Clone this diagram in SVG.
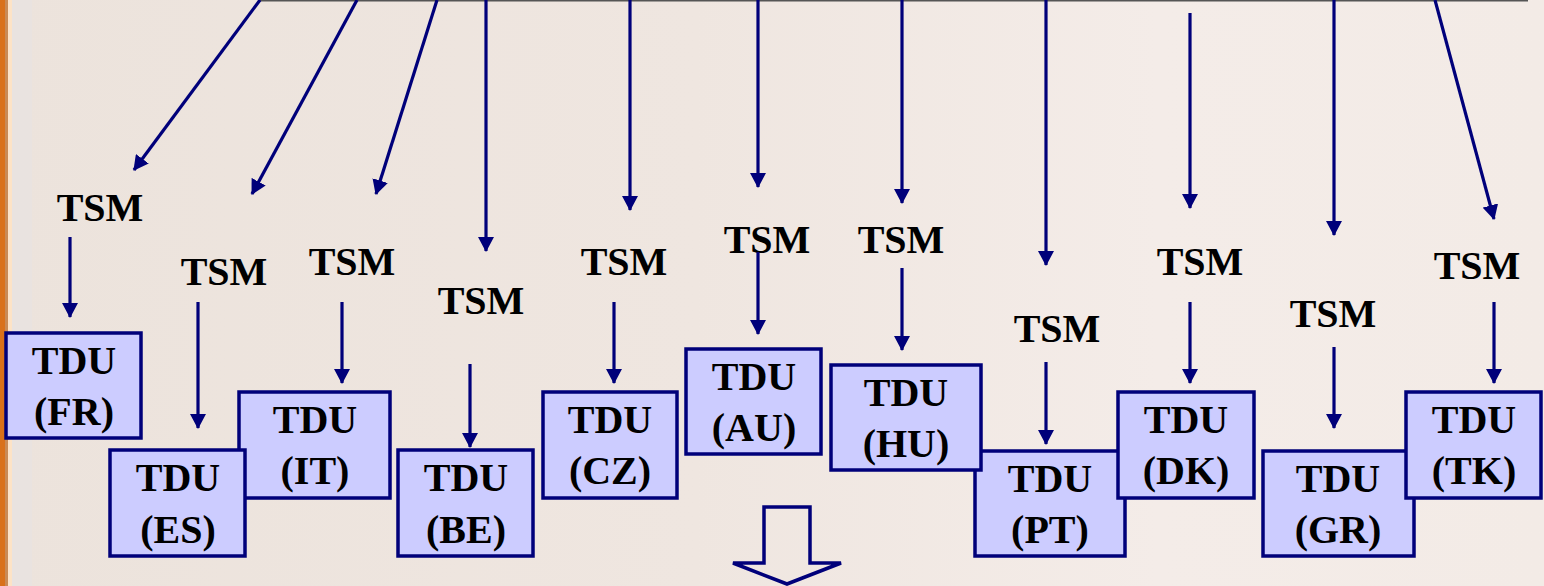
<svg xmlns="http://www.w3.org/2000/svg" width="1544" height="586" viewBox="0 0 1544 586">
  <defs>
    <linearGradient id="bg" x1="0" y1="0" x2="1" y2="0">
      <stop offset="0" stop-color="#ece3dc"/>
      <stop offset="0.45" stop-color="#efe6e0"/>
      <stop offset="0.75" stop-color="#f4ece8"/>
      <stop offset="1" stop-color="#f3ebe6"/>
    </linearGradient>
    <marker id="ah" viewBox="0 0 15 16" refX="14" refY="8" markerWidth="15" markerHeight="16" markerUnits="userSpaceOnUse" orient="auto">
      <path d="M0,0 L15,8 L0,16 Z" fill="#00007a"/>
    </marker>
    <style>
      .box { fill: #ccccff; stroke: #00007a; stroke-width: 3.5; }
      .t { font-family: "Liberation Serif", "Times New Roman", serif; font-weight: bold; font-size: 40px; fill: #000; text-anchor: middle; }
      .c { stroke: #00007a; stroke-width: 3.2; fill: none; marker-end: url(#ah); }
    </style>
  </defs>

  <rect x="0" y="0" width="1544" height="586" fill="url(#bg)"/>
  <rect x="0" y="0" width="5" height="586" fill="#d9711a"/>
  <rect x="5" y="0" width="3" height="586" fill="#c98a55"/>
  <rect x="8" y="0" width="4" height="586" fill="#fde3c6"/>
  <rect x="12" y="0" width="20" height="586" fill="#e8e2e2" opacity="0.6"/>
  <line x1="260" y1="0.7" x2="1528" y2="0.7" stroke="#555555" stroke-width="1.5"/>

  <g id="tsm-labels">
    <g id="tsm-fr"><text class="t" x="100" y="221">TSM</text></g>
    <g id="tsm-es"><text class="t" x="224" y="285">TSM</text></g>
    <g id="tsm-it"><text class="t" x="352" y="275">TSM</text></g>
    <g id="tsm-be"><text class="t" x="481" y="314">TSM</text></g>
    <g id="tsm-cz"><text class="t" x="624" y="275">TSM</text></g>
    <g id="tsm-au"><text class="t" x="767" y="253">TSM</text></g>
    <g id="tsm-hu"><text class="t" x="901" y="253">TSM</text></g>
    <g id="tsm-pt"><text class="t" x="1057" y="342">TSM</text></g>
    <g id="tsm-dk"><text class="t" x="1200" y="275">TSM</text></g>
    <g id="tsm-gr"><text class="t" x="1333" y="327">TSM</text></g>
    <g id="tsm-tk"><text class="t" x="1477" y="279">TSM</text></g>
  </g>

  <g id="tdu-nodes">
  <g id="tdu-fr"><rect class="box" x="6" y="333" width="135" height="105"/><text class="t" x="74" y="374">TDU</text><text class="t" x="74" y="425">(FR)</text></g>
  <g id="tdu-it"><rect class="box" x="239" y="392" width="151" height="106"/><text class="t" x="315" y="433">TDU</text><text class="t" x="315" y="484">(IT)</text></g>
  <g id="tdu-es"><rect class="box" x="110" y="450" width="135" height="106"/><text class="t" x="178" y="491">TDU</text><text class="t" x="178" y="543">(ES)</text></g>
  <g id="tdu-be"><rect class="box" x="398" y="450" width="135" height="106"/><text class="t" x="466" y="491">TDU</text><text class="t" x="466" y="543">(BE)</text></g>
  <g id="tdu-cz"><rect class="box" x="543" y="392" width="134" height="106"/><text class="t" x="610" y="433">TDU</text><text class="t" x="610" y="484">(CZ)</text></g>
  <g id="tdu-au"><rect class="box" x="686" y="349" width="135" height="105"/><text class="t" x="754" y="390">TDU</text><text class="t" x="754" y="441">(AU)</text></g>
  <g id="tdu-pt"><rect class="box" x="975" y="451" width="150" height="105"/><text class="t" x="1050" y="492">TDU</text><text class="t" x="1050" y="543">(PT)</text></g>
  <g id="tdu-hu"><rect class="box" x="831" y="365" width="150" height="105"/><text class="t" x="906" y="406">TDU</text><text class="t" x="906" y="457">(HU)</text></g>
  <g id="tdu-dk"><rect class="box" x="1118" y="392" width="136" height="106"/><text class="t" x="1186" y="433">TDU</text><text class="t" x="1186" y="484">(DK)</text></g>
  <g id="tdu-gr"><rect class="box" x="1263" y="451" width="151" height="105"/><text class="t" x="1338" y="492">TDU</text><text class="t" x="1338" y="543">(GR)</text></g>
  <g id="tdu-tk"><rect class="box" x="1406" y="392" width="135" height="106"/><text class="t" x="1474" y="433">TDU</text><text class="t" x="1474" y="484">(TK)</text></g>
  </g>

  <g id="connectors">
    <line class="c" x1="260" y1="0" x2="134" y2="170"/>
    <line class="c" x1="357" y1="0" x2="252" y2="194"/>
    <line class="c" x1="437" y1="0" x2="376" y2="194"/>
    <line class="c" x1="486" y1="0" x2="486" y2="251"/>
    <line class="c" x1="630" y1="0" x2="630" y2="210"/>
    <line class="c" x1="758" y1="0" x2="758" y2="187"/>
    <line class="c" x1="902" y1="0" x2="902" y2="203"/>
    <line class="c" x1="1046" y1="0" x2="1046" y2="265"/>
    <line class="c" x1="1190" y1="13" x2="1190" y2="208"/>
    <line class="c" x1="1334" y1="0" x2="1334" y2="235"/>
    <line class="c" x1="1435" y1="0" x2="1494" y2="219"/>

    <line class="c" x1="70" y1="237" x2="70" y2="317"/>
    <line class="c" x1="198" y1="302" x2="198" y2="428"/>
    <line class="c" x1="342" y1="302" x2="342" y2="383"/>
    <line class="c" x1="470" y1="364" x2="470" y2="447"/>
    <line class="c" x1="614" y1="302" x2="614" y2="383"/>
    <line class="c" x1="758" y1="252" x2="758" y2="334"/>
    <line class="c" x1="902" y1="268" x2="902" y2="350"/>
    <line class="c" x1="1046" y1="362" x2="1046" y2="444"/>
    <line class="c" x1="1190" y1="302" x2="1190" y2="383"/>
    <line class="c" x1="1334" y1="347" x2="1334" y2="428"/>
    <line class="c" x1="1494" y1="302" x2="1494" y2="383"/>

    <polygon points="764,507 810,507 810,563 841,563 787,584 733,563 764,563" fill="none" stroke="#00007a" stroke-width="3.5" stroke-linejoin="miter"/>
  </g>
</svg>
